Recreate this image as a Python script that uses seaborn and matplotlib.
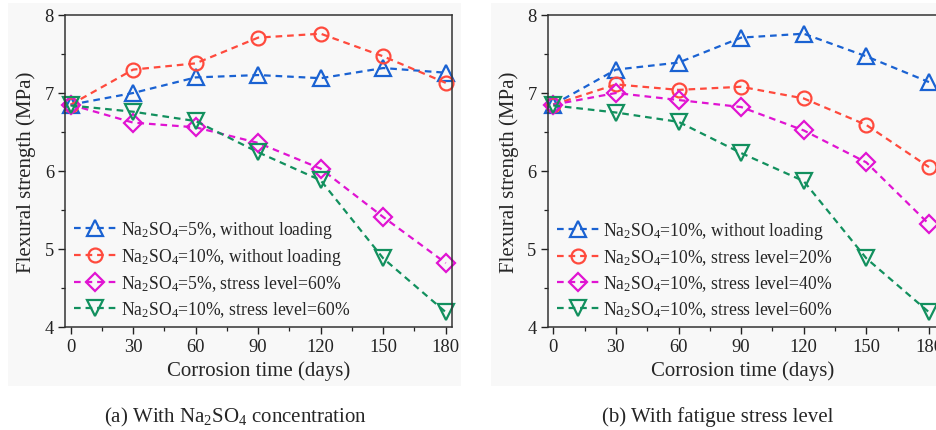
import numpy as np
import pandas as pd
import matplotlib
matplotlib.use("Agg")
import matplotlib.pyplot as plt
import seaborn as sns
from matplotlib.patches import Rectangle
from matplotlib.ticker import MultipleLocator

# ---- data ----
days = [0, 30, 60, 90, 120, 150, 180]

a_labels = ["Na$_2$SO$_4$=5%, without loading",
            "Na$_2$SO$_4$=10%, without loading",
            "Na$_2$SO$_4$=5%, stress level=60%",
            "Na$_2$SO$_4$=10%, stress level=60%"]
a_5_noload = [6.85, 7.00, 7.20, 7.23, 7.19, 7.32, 7.26]
a_10_noload = [6.85, 7.30, 7.38, 7.71, 7.76, 7.47, 7.13]
a_5_s60 = [6.85, 6.62, 6.56, 6.36, 6.03, 5.41, 4.82]
a_10_s60 = [6.84, 6.76, 6.64, 6.24, 5.88, 4.88, 4.19]

b_labels = ["Na$_2$SO$_4$=10%, without loading",
            "Na$_2$SO$_4$=10%, stress level=20%",
            "Na$_2$SO$_4$=10%, stress level=40%",
            "Na$_2$SO$_4$=10%, stress level=60%"]
b_noload = [6.85, 7.30, 7.39, 7.71, 7.76, 7.47, 7.14]
b_s20 = [6.85, 7.11, 7.04, 7.08, 6.93, 6.59, 6.05]
b_s40 = [6.85, 7.00, 6.91, 6.82, 6.52, 6.11, 5.32]
b_s60 = [6.84, 6.75, 6.63, 6.23, 5.87, 4.88, 4.19]

x_ticks = [0, 30, 60, 90, 120, 150, 180]
y_ticks = [4, 5, 6, 7, 8]
captions = ["(a) With Na$_2$SO$_4$ concentration", "(b) With fatigue stress level"]

# ---- style ----
sns.set_theme(style="ticks")
plt.rcParams["font.family"] = ["Liberation Serif", "DejaVu Serif"]
plt.rcParams["mathtext.fontset"] = "custom"
plt.rcParams["mathtext.rm"] = "Liberation Serif"
plt.rcParams["mathtext.it"] = "Liberation Serif:italic"

colors = ["#1a62d2", "#ff4a3d", "#e014d2", "#12905e"]
markers = ["^", "o", "D", "v"]
msizes = [11, 10, 9, 11]

W, H = 936, 431
fig = plt.figure(figsize=(W / 100, H / 100), dpi=100)
fig.patch.set_facecolor("white")
bg = "#f8f8f8"
fig.patches.append(Rectangle((8 / W, (H - 387) / H), (461 - 8) / W, (387 - 4) / H,
                             transform=fig.transFigure, facecolor=bg, edgecolor="none", zorder=-10))
fig.patches.append(Rectangle((491 / W, (H - 387) / H), (938 - 491) / W, (387 - 4) / H,
                             transform=fig.transFigure, facecolor=bg, edgecolor="none", zorder=-10))

ax_h = 312 / H
ax_b = (H - 328) / H
ax1 = fig.add_axes([65 / W, ax_b, 387 / W, ax_h])
ax2 = fig.add_axes([547.7 / W, ax_b, 389.6 / W, ax_h])

panels = [
    (ax1, [a_5_noload, a_10_noload, a_5_s60, a_10_s60], a_labels, (-2.7, 183)),
    (ax2, [b_noload, b_s20, b_s40, b_s60], b_labels, (-2.7, 184)),
]

for ax, series, labels, xl in panels:
    ax.set_facecolor(bg)
    for vals, lab, c, m, ms in zip(series, labels, colors, markers, msizes):
        df = pd.DataFrame({"day": days, "val": vals})
        sns.lineplot(data=df, x="day", y="val", ax=ax, color=c, marker=m,
                     markersize=ms, markerfacecolor="none", markeredgecolor=c,
                     markeredgewidth=1.6, linewidth=1.6, linestyle=(0, (3, 2.2)),
                     label=lab, clip_on=False)
    ax.set_xlim(*xl)
    ax.set_ylim(4, 8)
    ax.set_xticks(x_ticks)
    ax.set_yticks(y_ticks)
    ax.xaxis.set_minor_locator(MultipleLocator(15))
    ax.yaxis.set_minor_locator(MultipleLocator(0.5))
    ax.tick_params(axis="both", which="major", direction="out", length=5, width=1.0,
                   labelsize=13.3, colors="#222222", pad=3)
    ax.tick_params(axis="both", which="minor", direction="out", length=3, width=0.9,
                   colors="#222222")
    for sp in ax.spines.values():
        sp.set_visible(True)
        sp.set_linewidth(1.1)
        sp.set_color("#333333")
    ax.set_xlabel("Corrosion time (days)", fontsize=15, labelpad=4)
    ax.set_ylabel("Flexural strength (MPa)", fontsize=15, labelpad=6)
    leg = ax.legend(loc="lower left", frameon=False, fontsize=12.7, handlelength=2.4,
                    handletextpad=0.25, labelspacing=0.34, borderaxespad=0.2,
                    bbox_to_anchor=(-0.004, -0.008))

fig.text(235 / W, 1 - 417 / H, captions[0], ha="center", va="center", fontsize=15)
fig.text(718 / W, 1 - 417 / H, captions[1], ha="center", va="center", fontsize=15)

fig.savefig("out.png", dpi=100, facecolor="white")
